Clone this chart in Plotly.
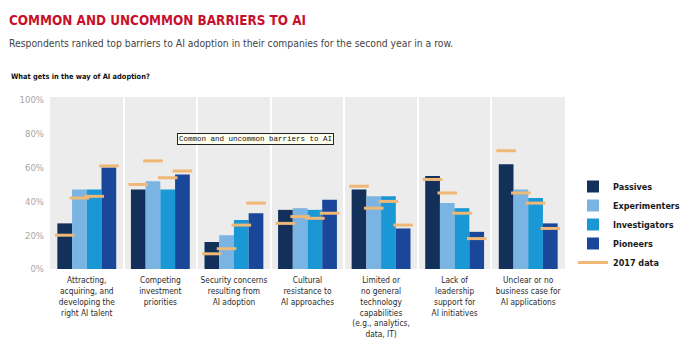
import plotly.graph_objects as go

categories = [
    "Attracting,<br>acquiring, and<br>developing the<br>right AI talent",
    "Competing<br>investment<br>priorities",
    "Security concerns<br>resulting from<br>AI adoption",
    "Cultural<br>resistance to<br>AI approaches",
    "Limited or<br>no general<br>technology<br>capabilities<br>(e.g., analytics,<br>data, IT)",
    "Lack of<br>leadership<br>support for<br>AI initiatives",
    "Unclear or no<br>business case for<br>AI applications",
]
series_names = ["Passives", "Experimenters", "Investigators", "Pioneers"]
passives = [27, 47, 16, 35, 47, 55, 62]
experimenters = [47, 52, 20, 36, 43, 39, 47]
investigators = [47, 47, 29, 35, 43, 36, 42]
pioneers = [60, 56, 33, 41, 24, 22, 27]
passives_2017 = [20, 50, 9, 27, 49, 53, 70]
experimenters_2017 = [42, 64, 12, 31, 36, 45, 45]
investigators_2017 = [43, 54, 26, 30, 40, 33, 39]
pioneers_2017 = [61, 58, 39, 33, 26, 18, 24]
y_tickvals = [0, 20, 40, 60, 80, 100]
y_ticktext = ["0%", "20%", "40%", "60%", "80%", "100%"]

values = [passives, experimenters, investigators, pioneers]
values_2017 = [passives_2017, experimenters_2017, investigators_2017, pioneers_2017]
colors = ["#12305a", "#7ab4e2", "#1a98d5", "#1b479a"]
orange = "#efb877"

FONT = "DejaVu Sans Condensed, Lato, sans-serif"

bargap = 0.2
n = len(series_names)
bw = (1 - bargap) / n
xs = list(range(len(categories)))

fig = go.Figure()
for k, name in enumerate(series_names):
    fig.add_trace(go.Bar(
        x=xs, y=values[k], name=name, marker=dict(color=colors[k], line=dict(width=0)),
    ))
for k, name in enumerate(series_names):
    off = -0.5 + bargap / 2 + bw * (k + 0.5)
    fig.add_trace(go.Scatter(
        x=[x + off for x in xs], y=values_2017[k], mode="markers", showlegend=False,
        marker=dict(symbol="line-ew", size=14, color=orange, line=dict(color=orange, width=3)),
        hoverinfo="skip",
    ))
fig.add_trace(go.Scatter(x=[None], y=[None], mode="lines", name="2017 data",
                         line=dict(color=orange, width=3)))

W, H = 680, 353
L, R, T, B = 50, 115, 97, 84
pw, ph = W - L - R, H - T - B

def px(x):
    return (x - L) / pw

def py(y):
    return (H - B - y) / ph

fig.update_layout(
    width=W, height=H, margin=dict(l=L, r=R, t=T, b=B, autoexpand=False),
    paper_bgcolor="white", plot_bgcolor="#ececec",
    barmode="group", bargap=bargap, bargroupgap=0,
    font=dict(family=FONT, color="#333"),
    showlegend=True,
    legend=dict(x=px(573), y=py(172), xanchor="left", yanchor="top",
                font=dict(size=9, color="#1a1a1a", family=FONT, weight="bold"),
                bgcolor="rgba(0,0,0,0)", tracegroupgap=0),
    xaxis=dict(range=[-0.5, len(categories) - 0.5], tickvals=xs, ticktext=categories,
               tickangle=0, automargin=False, ticklabelstandoff=5,
               showgrid=False, zeroline=False, ticks="", showline=False,
               tickfont=dict(size=8.3, color="#2a2a2a", family=FONT),
               minor=dict(tickvals=[i + 0.5 for i in xs[:-1]], showgrid=True,
                          gridcolor="white", gridwidth=2, ticks="")),
    yaxis=dict(range=[0, 101.8], tickvals=y_tickvals, ticktext=y_ticktext, showgrid=False,
               automargin=False,
               zeroline=False, ticks="", showline=False, ticklabelstandoff=5,
               tickfont=dict(size=9.5, color="#a8a8a8", family=FONT)),
    annotations=[
        dict(text="<b>COMMON AND UNCOMMON BARRIERS TO AI</b>", xref="paper", yref="paper",
             x=px(7), y=py(20), xanchor="left", yanchor="middle", showarrow=False,
             font=dict(size=13.4, color="#c8102e", family=FONT)),
        dict(text="Respondents ranked top barriers to AI adoption in their companies for the second year in a row.",
             xref="paper", yref="paper", x=px(7), y=py(43), xanchor="left", yanchor="middle",
             showarrow=False, font=dict(size=10.3, color="#444", family=FONT)),
        dict(text="<b>What gets in the way of AI adoption?</b>", xref="paper", yref="paper",
             x=px(9), y=py(76), xanchor="left", yanchor="middle", showarrow=False,
             font=dict(size=7.4, color="#111", family=FONT)),
        dict(text="Common and uncommon barriers to AI", xref="paper", yref="paper",
             x=px(255), y=py(139), xanchor="center", yanchor="middle", showarrow=False,
             font=dict(size=7.5, color="#111", family="Liberation Mono, DejaVu Sans Mono, monospace"),
             bgcolor="#fffff0", bordercolor="#222", borderwidth=1, borderpad=1),
    ],
)

fig.write_html("out.html")
